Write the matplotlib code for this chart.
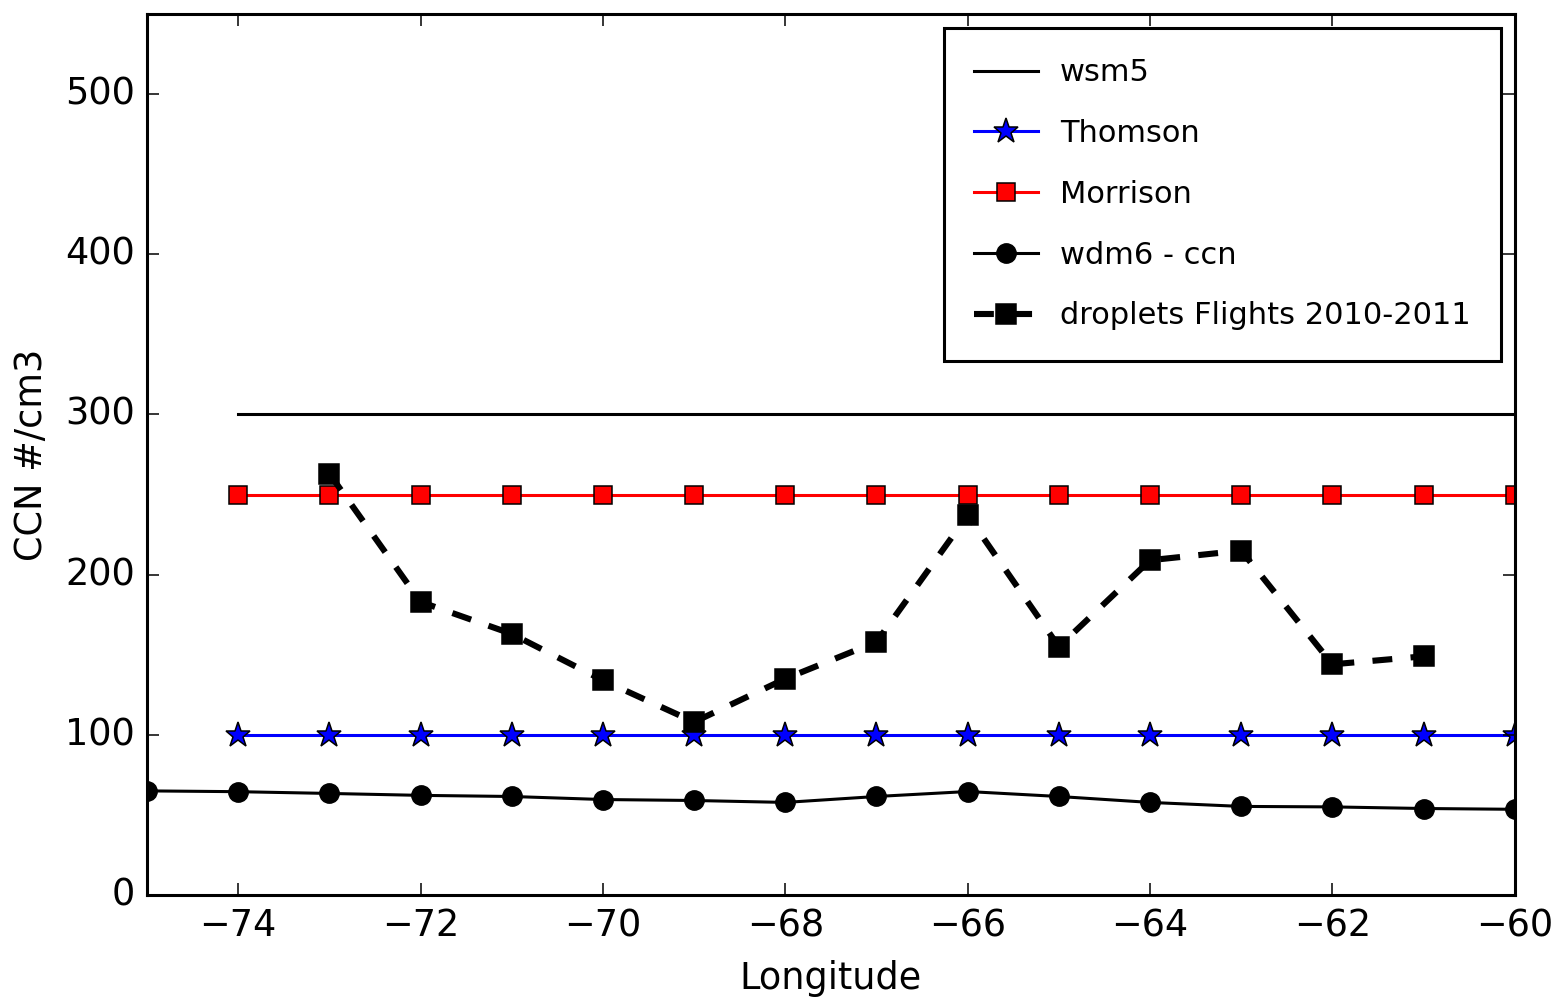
import numpy as np
import matplotlib
matplotlib.use('Agg')
import matplotlib.pyplot as plt

plt.style.use('classic')

lon_full = [-74, -73, -72, -71, -70, -69, -68, -67, -66, -65, -64, -63, -62, -61, -60]
wsm5 = [300] * len(lon_full)
thomson = [100] * len(lon_full)
morrison = [250] * len(lon_full)

lon_wdm6 = [-75, -74, -73, -72, -71, -70, -69, -68, -67, -66, -65, -64, -63, -62, -61, -60]
wdm6 = [65, 64.5, 63.4, 62.2, 61.5, 59.6, 59, 57.8, 61.5, 64.6, 61.5, 57.8, 55.3, 55, 54, 53.5]

lon_obs = [-73, -72, -71, -70, -69, -68, -67, -66, -65, -64, -63, -62, -61]
droplets = [263, 183, 163, 134, 108, 135, 158, 237, 155, 209, 215, 144, 149]

dpi = 220
fig = plt.figure(figsize=(1556 / dpi, 1000 / dpi), dpi=dpi)
ax = fig.add_axes([0.0945, 0.105, 0.879, 0.881])

ax.plot(lon_full, wsm5, 'k-', label='wsm5')
ax.plot(lon_full, thomson, 'b-*', ms=8.5, label='Thomson')
ax.plot(lon_full, morrison, 'r-s', ms=6, label='Morrison')
ax.plot(lon_wdm6, wdm6, 'k-o', ms=6.3, label='wdm6 - ccn')
ax.plot(lon_obs, droplets, 'k--s', lw=2, ms=6.3, dashes=(6.5, 6), label='droplets Flights 2010-2011')

ax.set_xlim(-75, -60)
ax.set_ylim(0, 550)
ax.set_xticks(np.arange(-74, -59, 2))
ax.set_yticks(np.arange(0, 501, 100))
ax.tick_params(labelsize=12, length=4)
ax.set_xlabel('Longitude', fontsize=12)
ax.set_ylabel('CCN #/cm3', fontsize=12)

leg = ax.legend(loc='upper right', fontsize=10, numpoints=1, labelspacing=1.04,
                borderpad=1.0, handlelength=2.1, handletextpad=0.7, borderaxespad=0.45)

fig.savefig('out.png', dpi=dpi)
